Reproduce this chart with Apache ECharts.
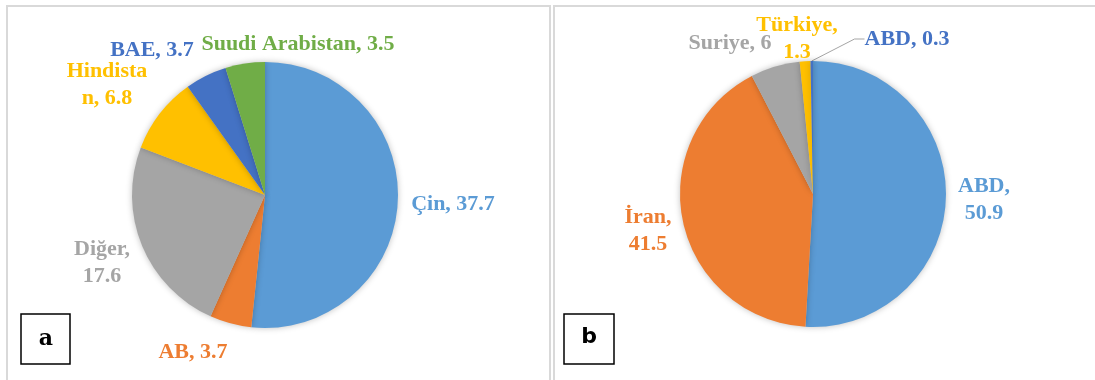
<!DOCTYPE html>
<html>
<head>
<meta charset="utf-8">
<script src="https://cdn.jsdelivr.net/npm/echarts@6/dist/echarts.min.js"></script>
<style>
  html, body { margin: 0; padding: 0; background: #fff; }
  #chart { width: 1095px; height: 380px; }
</style>
</head>
<body>
<div id="chart"></div>
<script>
// panel a
const namesA = ["Çin", "AB", "Diğer", "Hindistan", "BAE", "Suudi Arabistan"];
const valuesA = [37.7, 3.7, 17.6, 6.8, 3.7, 3.5];
const colorsA = ["#5B9BD5", "#ED7D31", "#A5A5A5", "#FFC000", "#4472C4", "#70AD47"];
// where the label text is broken: "comma" = after the comma, number = char index in the name
const wrapA = [null, null, "comma", 8, null, null];

// panel b
const namesB = ["ABD", "İran", "Suriye", "Türkiye", "ABD"];
const valuesB = [50.9, 41.5, 6, 1.3, 0.3];
const colorsB = ["#5B9BD5", "#ED7D31", "#A5A5A5", "#FFC000", "#4472C4"];
const wrapB = ["comma", "comma", null, "comma", null];

// label centres (px)
const labelPosA = [[453, 204], [193, 352], [102, 263], [107, 85], [152, 50], [298, 44]];
const labelPosB = [[984, 200], [648, 231], [730, 43], [797, 39], [907, 39]];

const fontFamily = "'Liberation Serif', 'Times New Roman', serif";

function labelText(name, value, wrap) {
  if (wrap === "comma") return name + ",\n" + value;
  if (typeof wrap === "number") return name.slice(0, wrap) + "\n" + name.slice(wrap) + ", " + value;
  return name + ", " + value;
}

function makeData(names, values, colors, wraps) {
  return names.map((n, i) => ({
    name: n,
    value: values[i],
    itemStyle: { color: colors[i] },
    label: {
      color: colors[i],
      formatter: labelText(n, values[i], wraps[i])
    }
  }));
}

const dataA = makeData(namesA, valuesA, colorsA, wrapA);
const dataB = makeData(namesB, valuesB, colorsB, wrapB);
// small slice gets a leader line
dataB[4].labelLine = { show: true };

const chart = echarts.init(document.getElementById("chart"));

const baseSeries = {
  type: "pie",
  radius: 133,
  startAngle: 90,
  clockwise: true,
  avoidLabelOverlap: false,
  animation: false,
  itemStyle: {
    borderWidth: 0,
    shadowBlur: 6,
    shadowColor: "rgba(0,0,0,0.25)"
  },
  label: {
    show: true,
    position: "outside",
    fontFamily: fontFamily,
    fontWeight: "bold",
    fontSize: 22,
    lineHeight: 27,
    align: "center"
  },
  labelLine: {
    show: false,
    length: 12,
    length2: 10,
    lineStyle: { color: "#A5A5A5", width: 1 }
  },
  emphasis: { disabled: true }
};

const option = {
  backgroundColor: "#ffffff",
  graphic: [
    { type: "rect", shape: { x: 7, y: 6, width: 543, height: 400 }, style: { fill: "none", stroke: "#d9d9d9", lineWidth: 2 } },
    { type: "rect", shape: { x: 554, y: 6, width: 560, height: 400 }, style: { fill: "none", stroke: "#d9d9d9", lineWidth: 2 } },
    { type: "rect", shape: { x: 21, y: 314, width: 49, height: 50 }, style: { fill: "#fff", stroke: "#000", lineWidth: 1.5 } },
    { type: "text", x: 46, y: 339, style: { text: "a", font: "bold 22px 'DejaVu Serif'", fill: "#000", align: "center", verticalAlign: "middle" } },
    { type: "rect", shape: { x: 564, y: 314, width: 50, height: 50 }, style: { fill: "#fff", stroke: "#000", lineWidth: 1.5 } },
    { type: "text", x: 589, y: 337, style: { text: "b", font: "bold 22px 'DejaVu Sans'", fill: "#000", align: "center", verticalAlign: "middle" } }
  ],
  series: [
    Object.assign({}, baseSeries, {
      name: "a",
      center: [265, 195],
      data: dataA,
      labelLayout: (p) => ({
        x: labelPosA[p.dataIndex][0],
        y: labelPosA[p.dataIndex][1],
        align: "center",
        verticalAlign: "middle"
      })
    }),
    Object.assign({}, baseSeries, {
      name: "b",
      center: [813, 194],
      data: dataB,
      labelLayout: (p) => ({
        x: labelPosB[p.dataIndex][0],
        y: labelPosB[p.dataIndex][1],
        align: "center",
        verticalAlign: "middle"
      })
    })
  ]
};

chart.setOption(option);
</script>
</body>
</html>
